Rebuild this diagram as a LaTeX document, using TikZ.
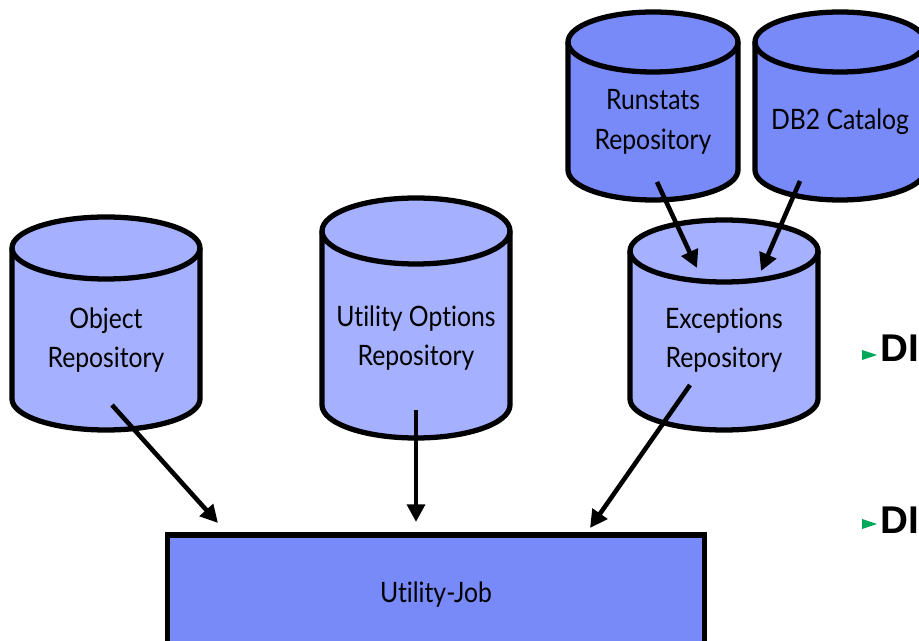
\documentclass[tikz,border=0pt]{standalone}
\usepackage{fontspec}
\setmainfont{Lato}
\newfontfamily\cylfont[FakeStretch=0.88,Ligatures={NoCommon}]{Lato}
\newfontfamily\bulletfont{Liberation Sans}
\usetikzlibrary{arrows.meta}
\definecolor{lightdb}{RGB}{165,176,254}
\definecolor{darkdb}{RGB}{120,137,248}
\definecolor{bullgreen}{RGB}{0,168,90}
\tikzset{
  cylline/.style={line width=3pt},
  cyltext/.style={align=center,inner sep=0pt,font=\cylfont\fontsize{16}{22.5}\selectfont},
  flow/.style={line width=2.6pt,-{Triangle[length=10pt,width=10pt]}},
  jobbox/.style={draw,line width=3pt,fill=darkdb,minimum width=10.74cm,minimum height=2.4cm,
    font=\cylfont\fontsize{16}{22.5}\selectfont},
  bullettext/.style={inner sep=0pt,anchor=base west,font=\bulletfont\bfseries\fontsize{22}{26}\selectfont},
}
% #1 fill, #2 centre x, #3 top y, #4 bottom y, #5 x radius, #6 y radius
\newcommand{\dbcyl}[6]{%
  \draw[cylline,fill=#1] (#2-#5,#3) -- (#2-#5,#4)
    arc[start angle=180,end angle=360,x radius=#5,y radius=#6] -- (#2+#5,#3)
    arc[start angle=0,end angle=180,x radius=#5,y radius=#6] -- cycle;
  \draw[cylline] (#2-#5,#3) arc[start angle=180,end angle=360,x radius=#5,y radius=#6];
}
\begin{document}
\begin{tikzpicture}[x=0.02cm,y=0.02cm]
  \clip (0,0) rectangle (919,-641);
  % sources
  \dbcyl{darkdb}{653}{-42}{-170}{85}{30}
  \dbcyl{darkdb}{840}{-42}{-170}{85}{30}
  \node[cyltext] (runstats) at (653,-122) {Runstats\\Repository};
  \node[cyltext] (catalog) at (840,-122) {DB2 Catalog};
  % repositories
  \dbcyl{lightdb}{106}{-248}{-399}{94}{31}
  \dbcyl{lightdb}{416}{-231}{-405}{94}{33}
  \dbcyl{lightdb}{724}{-251}{-399}{94}{31}
  \node[cyltext] (objrep) at (106,-340) {Object\\Repository};
  \node[cyltext] (optrep) at (416,-338) {Utility Options\\Repository};
  \node[cyltext] (excrep) at (724,-340) {Exceptions\\Repository};
  % job
  \node[jobbox] (job) at (436,-595) {Utility-Job};
  % arrow ends
  \coordinate (runout) at (657,-182);
  \coordinate (catout) at (800,-181);
  \coordinate (excin1) at (697,-268);
  \coordinate (excin2) at (761,-271);
  \coordinate (objout) at (112,-405);
  \coordinate (optout) at (416,-410);
  \coordinate (excout) at (690,-385);
  \coordinate (jobin1) at (218,-523);
  \coordinate (jobin2) at (416,-522);
  \coordinate (jobin3) at (590,-528);
  \draw[flow] (runout) -- (excin1);
  \draw[flow] (catout) -- (excin2);
  \draw[flow] (objout) -- (jobin1);
  \draw[flow] (optout) -- (jobin2);
  \draw[flow] (excout) -- (jobin3);
  % bullets
  \node[bullettext] (dione) at (880,-362) {DI};
  \node[bullettext] (ditwo) at (880,-533) {DI};
  \fill[bullgreen] (862,-350) -- (877,-355) -- (862,-360) -- cycle;
  \fill[bullgreen] (862,-519) -- (877,-524) -- (862,-529) -- cycle;
\end{tikzpicture}
\end{document}
